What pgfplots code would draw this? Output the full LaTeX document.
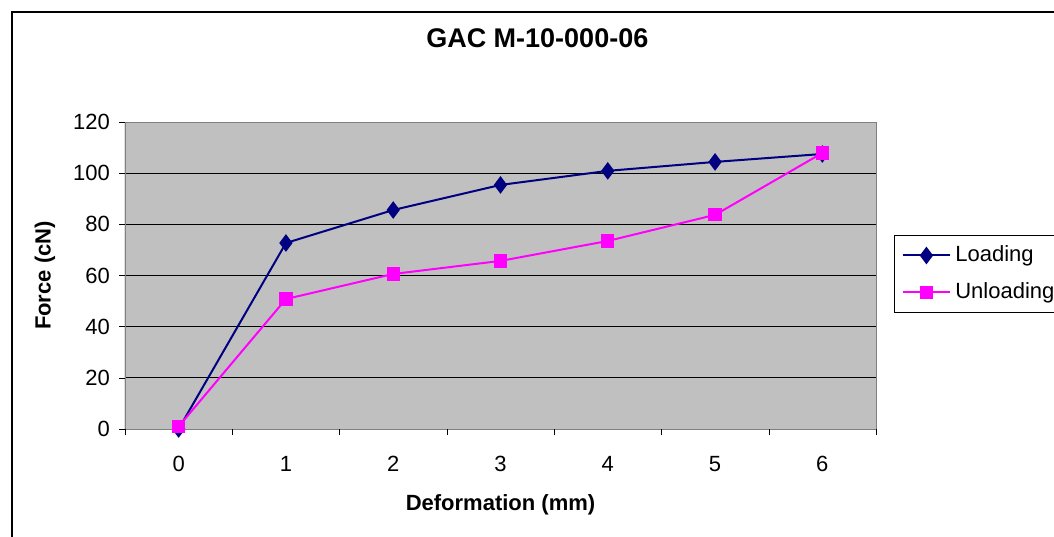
\documentclass[border=0pt]{standalone}
\usepackage{pgfplots}
\pgfplotsset{compat=1.18}
\usepackage{fontspec}
\setmainfont{Liberation Sans}
\definecolor{navyline}{HTML}{000080}
\definecolor{magline}{HTML}{FF00FF}
\definecolor{plotgray}{HTML}{C0C0C0}
\begin{document}
\begin{tikzpicture}
\useasboundingbox (0,0) rectangle (527pt,268pt);
\draw[line width=1pt] (6pt,-10pt) rectangle (540pt,262pt);
\begin{axis}[
    at={(62.5pt,53.5pt)}, anchor=south west,
    scale only axis, width=375.5pt, height=153.5pt,
    xmin=-0.5, xmax=6.5, ymin=0, ymax=120,
    xtick={0,...,6}, ytick={0,20,...,120},
    extra x ticks={-0.5,0.5,...,6.5}, extra x tick labels={},
    extra x tick style={major tick length=3pt, grid=none},
    tick align=outside, major tick length=3pt,
    xtick style={draw=none},
    extra x tick style={xtick style={draw=black}},
    ytick style={black}, xtick pos=bottom, ytick pos=left,
    ymajorgrids, grid style={black, line width=0.5pt},
    axis background/.style={fill=plotgray},
    axis line style={gray},
    font=\fontsize{11}{13}\selectfont,
    /pgf/number format/assume math mode=true,
    xticklabel style={yshift=-7pt},
    yticklabel style={xshift=-1pt},
    title={\textbf{GAC M-10-000-06}},
    title style={at={(0.549,1.234)}, anchor=center, font=\fontsize{13.5}{16}\selectfont},
    xlabel={\textbf{Deformation (mm)}},
    xlabel style={at={(axis description cs:0.5,-0.248)}, anchor=center},
    ylabel={\textbf{Force (cN)}},
    ylabel style={at={(axis description cs:-0.1065,0.5)}, anchor=center},
    legend style={at={(1.024,0.505)}, anchor=west, draw=black, line width=0.5pt,
        font=\fontsize{11}{13}\selectfont, row sep=5pt, inner sep=3.5pt},
    legend cell align=left,
    legend image code/.code={
        \draw[mark repeat=2,mark phase=2] plot coordinates {(0cm,0cm) (0.42cm,0cm) (0.84cm,0cm)};
    },
]
\draw[black, line width=0.5pt] (rel axis cs:0,0) -- (rel axis cs:0,1);
\addplot[navyline, line width=1pt, mark=diamond*, mark size=3.6pt, mark options={fill=navyline}]
    coordinates {(0,0) (1,72.7) (2,85.6) (3,95.4) (4,100.9) (5,104.4) (6,107.5)};
\addplot[magline, line width=1pt, mark=square*, mark size=2.8pt, mark options={fill=magline}]
    coordinates {(0,1) (1,50.8) (2,60.6) (3,65.7) (4,73.5) (5,83.7) (6,107.9)};
\legend{Loading,Unloading}
\end{axis}
\end{tikzpicture}
\end{document}
